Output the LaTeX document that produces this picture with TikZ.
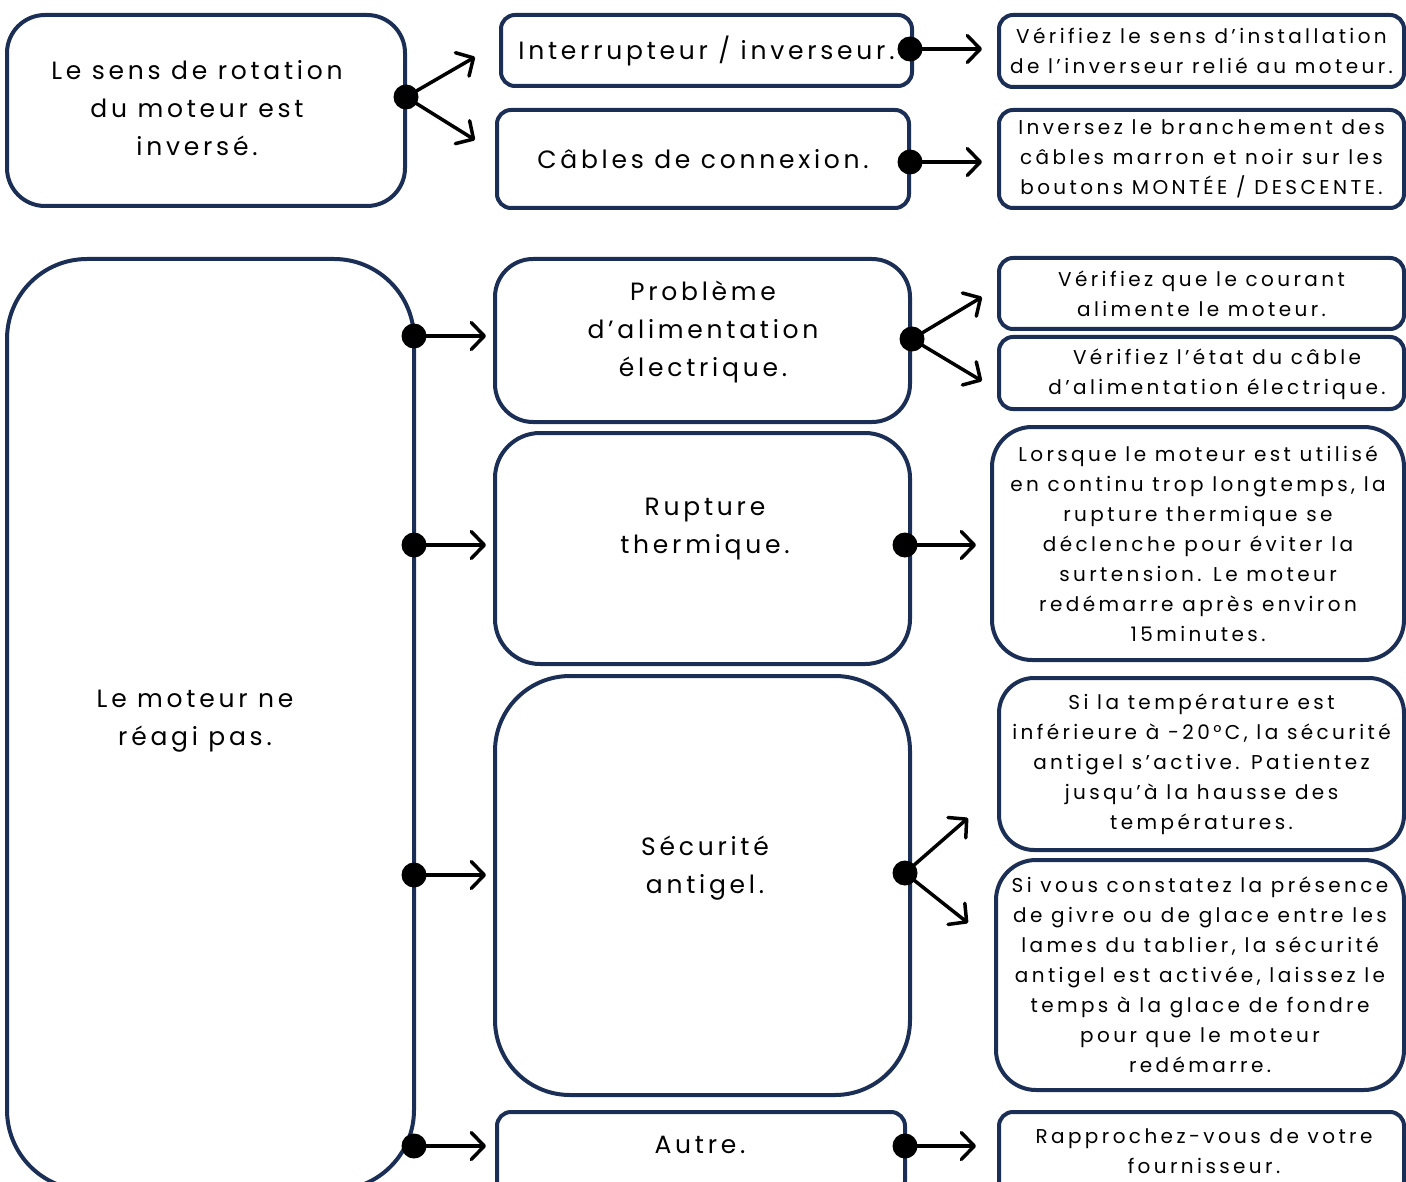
\documentclass[tikz,border=0pt]{standalone}
\usepackage{fontspec}
\setmainfont{Poppins}[LetterSpace=17]
\newfontfamily\bigfont{Poppins}[LetterSpace=15]
\usetikzlibrary{arrows.meta}
\definecolor{navy}{RGB}{27,47,86}
\tikzset{
  box/.style={draw=navy,line width=4pt,align=center,inner sep=0pt},
  big/.style={font=\bigfont\fontsize{25}{38}\selectfont,align=center},
  small/.style={font=\fontsize{20}{30}\selectfont,align=center},
  arr/.style={line width=3.5pt,line cap=round,-{Straight Barb[length=13pt,width=27pt,line cap=round,line join=round]}},
  dot/.style={circle,fill=black,inner sep=0pt,minimum size=25pt},
}
\begin{document}
\begin{tikzpicture}[x=1pt,y=-1pt]
\useasboundingbox (0,0) rectangle (1406,1182);
\clip (0,0) rectangle (1406,1182);
% rotation
\node[box,big,minimum width=398pt,minimum height=191pt,rounded corners=38pt] (sens) at (206,110.5) {};
\node[big] (senst) at (197,108) {Le sens de rotation\\du moteur est\\inversé.};
\node[box,big,minimum width=411pt,minimum height=71pt,rounded corners=14pt] (inter) at (706.5,50.5) {Interrupteur / inverseur.};
\node[box,big,minimum width=412pt,minimum height=98pt,rounded corners=14pt] (cables) at (703,159) {Câbles de connexion.};
\node[box,small,minimum width=405pt,minimum height=72pt,rounded corners=14pt] (verinv) at (1201.5,51) {Vérifiez le sens d’installation\\de l’inverseur relié au moteur.};
\node[box,small,minimum width=405pt,minimum height=98pt,rounded corners=14pt] (invbr) at (1201.5,159) {Inversez le branchement des\\câbles marron et noir sur les\\boutons MONTÉE / DESCENTE.};
% moteur
\node[box,minimum width=407pt,minimum height=931pt,rounded corners=80pt] (moteur) at (210.5,724.5) {};
\node[big] (moteurt) at (195,721) {Le moteur ne\\réagi pas.};
\node[box,big,minimum width=415pt,minimum height=163pt,rounded corners=38pt] (alim) at (702.5,340.5) {};
\node[big] (alimt) at (703,332) {Problème\\d’alimentation\\électrique.};
\node[box,minimum width=415pt,minimum height=231pt,rounded corners=45pt] (rupt) at (702.5,548.5) {};
\node[big] (ruptt) at (705,529) {Rupture\\thermique.};
\node[box,minimum width=415pt,minimum height=419pt,rounded corners=75pt] (gel) at (702.5,885.5) {};
\node[big] (gelt) at (705,868) {Sécurité\\antigel.};
\node[box,minimum width=408pt,minimum height=83pt,rounded corners=14pt] (autre) at (701,1153.5) {};
\node[big] (autret) at (700,1145) {Autre.};
\node[box,small,minimum width=405pt,minimum height=71pt,rounded corners=14pt] (courant) at (1201.5,293.5) {Vérifiez que le courant\\alimente le moteur.};
\node[box,small,minimum width=405pt,minimum height=72pt,rounded corners=14pt] (etat) at (1201.5,373) {};
\node[small] (etatt) at (1217,374) {Vérifiez l’état du câble\\d’alimentation électrique.};
\node[box,small,minimum width=412pt,minimum height=233pt,rounded corners=40pt] (lorsque) at (1198,543.5) {Lorsque le moteur est utilisé\\en continu trop longtemps, la\\rupture thermique se\\déclenche pour éviter la\\surtension. Le moteur\\redémarre après environ\\15minutes.};
\node[box,small,minimum width=405pt,minimum height=172pt,rounded corners=35pt] (temp) at (1201.5,764) {Si la température est\\inférieure à -20°C, la sécurité\\antigel s’active. Patientez\\jusqu’à la hausse des\\températures.};
\node[box,small,minimum width=408pt,minimum height=230pt,rounded corners=40pt] (givre) at (1200,975) {Si vous constatez la présence\\de givre ou de glace entre les\\lames du tablier, la sécurité\\antigel est activée, laissez le\\temps à la glace de fondre\\pour que le moteur\\redémarre.};
\node[box,minimum width=405pt,minimum height=83pt,rounded corners=14pt] (fourn) at (1201.5,1153.5) {};
\node[small] (fournt) at (1204,1151) {Rapprochez-vous de votre\\fournisseur.};
%
\node[dot] (d1) at (406,97) {};
\node[dot] (d2) at (910,49) {};
\node[dot] (d3) at (910,162) {};
\node[dot] (d4) at (414,336) {};
\node[dot] (d5) at (912,339) {};
\node[dot] (d6) at (414,545) {};
\node[dot] (d7) at (905,545) {};
\node[dot] (d8) at (414,875) {};
\node[dot] (d9) at (905,873) {};
\node[dot] (d10) at (414,1146) {};
\node[dot] (d11) at (905,1146) {};
\coordinate (e1a) at (475,57);
\coordinate (e1b) at (475,140);
\coordinate (e2) at (982,49);
\coordinate (e3) at (982,162);
\coordinate (e4) at (486,336);
\coordinate (e5a) at (982,297);
\coordinate (e5b) at (982,381);
\coordinate (e6) at (486,545);
\coordinate (e7) at (976,545);
\coordinate (e8) at (486,875);
\coordinate (e9a) at (968,818);
\coordinate (e9b) at (968,923);
\coordinate (e10) at (486,1146);
\coordinate (e11) at (976,1146);
\draw[arr] (d1.center) -- (e1a);
\draw[arr] (d1.center) -- (e1b);
\draw[arr] (d2.center) -- (e2);
\draw[arr] (d3.center) -- (e3);
\draw[arr] (d4.center) -- (e4);
\draw[arr] (d5.center) -- (e5a);
\draw[arr] (d5.center) -- (e5b);
\draw[arr] (d6.center) -- (e6);
\draw[arr] (d7.center) -- (e7);
\draw[arr] (d8.center) -- (e8);
\draw[arr] (d9.center) -- (e9a);
\draw[arr] (d9.center) -- (e9b);
\draw[arr] (d10.center) -- (e10);
\draw[arr] (d11.center) -- (e11);
\end{tikzpicture}
\end{document}
